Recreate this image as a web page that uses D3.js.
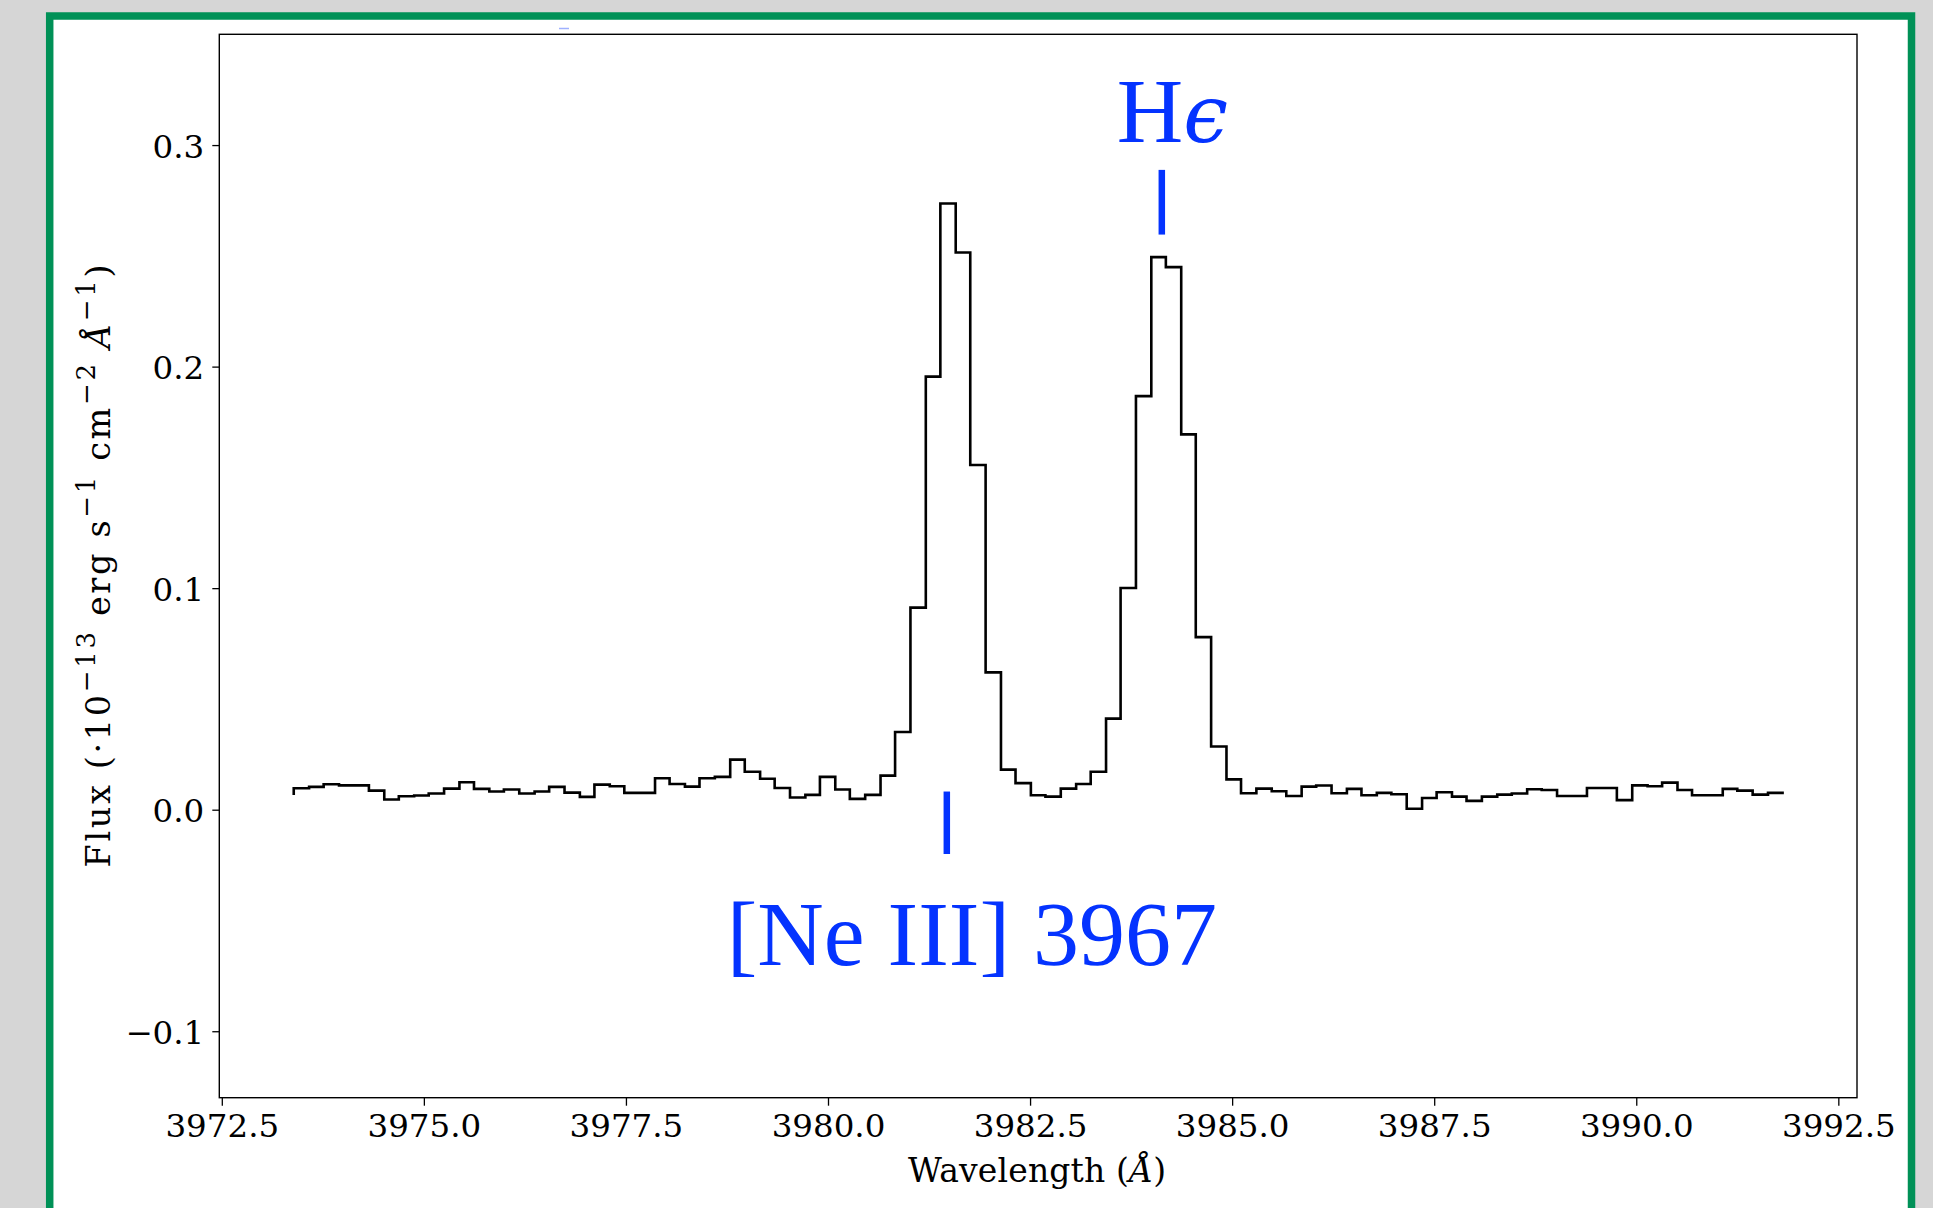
<!DOCTYPE html>
<html>
<head>
<meta charset="utf-8">
<script src="https://cdn.jsdelivr.net/npm/d3@7"></script>
<style>
  html, body { margin: 0; padding: 0; background: #d6d6d6; }
  svg { display: block; }
</style>
</head>
<body>
<svg id="chart" width="1933" height="1208"></svg>
<script>
// ---- data ----
const wavelength = [
  3973.39, 3973.58, 3973.76, 3973.95, 3974.13, 3974.32, 3974.51, 3974.69, 3974.88, 3975.06,
  3975.25, 3975.44, 3975.62, 3975.81, 3975.99, 3976.18, 3976.37, 3976.55, 3976.74, 3976.93,
  3977.11, 3977.30, 3977.48, 3977.67, 3977.86, 3978.04, 3978.23, 3978.41, 3978.60, 3978.79,
  3978.97, 3979.16, 3979.34, 3979.53, 3979.72, 3979.90, 3980.09, 3980.27, 3980.46, 3980.65,
  3980.83, 3981.02, 3981.21, 3981.39, 3981.58, 3981.76, 3981.95, 3982.14, 3982.32, 3982.51,
  3982.69, 3982.88, 3983.07, 3983.25, 3983.44, 3983.62, 3983.81, 3984.00, 3984.18, 3984.37,
  3984.55, 3984.74, 3984.93, 3985.11, 3985.30, 3985.49, 3985.67, 3985.86, 3986.04, 3986.23,
  3986.42, 3986.60, 3986.79, 3986.97, 3987.16, 3987.35, 3987.53, 3987.72, 3987.90, 3988.09,
  3988.28, 3988.46, 3988.65, 3988.83, 3989.02, 3989.21, 3989.39, 3989.58, 3989.76, 3989.95,
  3990.14, 3990.32, 3990.51, 3990.69, 3990.88, 3991.07, 3991.25, 3991.44, 3991.63, 3991.81
];
const flux = [
  0.0072, 0.0097, 0.0103, 0.0115, 0.0110, 0.0110, 0.0086, 0.0046, 0.0061, 0.0064,
  0.0073, 0.0095, 0.0124, 0.0094, 0.0082, 0.0091, 0.0073, 0.0082, 0.0103, 0.0077,
  0.0058, 0.0113, 0.0106, 0.0076, 0.0076, 0.0142, 0.0116, 0.0104, 0.0142, 0.0148,
  0.0226, 0.0171, 0.0140, 0.0098, 0.0055, 0.0067, 0.0148, 0.0091, 0.0049, 0.0067,
  0.0154, 0.0351, 0.0912, 0.1955, 0.2736, 0.2515, 0.1556, 0.0620, 0.0181, 0.0120,
  0.0065, 0.0059, 0.0095, 0.0116, 0.0171, 0.0411, 0.1001, 0.1867, 0.2494, 0.2449,
  0.1694, 0.0779, 0.0285, 0.0137, 0.0074, 0.0095, 0.0083, 0.0062, 0.0104, 0.0109,
  0.0074, 0.0094, 0.0065, 0.0076, 0.0070, 0.0004, 0.0053, 0.0079, 0.0059, 0.0040,
  0.0059, 0.0068, 0.0073, 0.0092, 0.0089, 0.0062, 0.0062, 0.0098, 0.0098, 0.0043,
  0.0110, 0.0106, 0.0122, 0.0089, 0.0065, 0.0065, 0.0094, 0.0086, 0.0068, 0.0076
];
const xTicks = [3972.5, 3975.0, 3977.5, 3980.0, 3982.5, 3985.0, 3987.5, 3990.0, 3992.5];
const yTicks = [-0.1, 0.0, 0.1, 0.2, 0.3];
const yDomain = [-0.13, 0.35];

// line markers: wavelength, marker bottom flux, marker top flux
const lineNames = ["[Ne III] 3967", "H\u03f5"];
const markerWave = [3981.47, 3984.13];
const markerLow = [-0.0200, 0.2596];
const markerHigh = [0.0082, 0.2888];
// label anchor (center wavelength, baseline flux)
const labelWave = [3981.78, 3984.26];
const labelFlux = [-0.0701, 0.3015];

// ---- layout ----
const W = 1933, H = 1208;
const plot = { left: 219.3, right: 1857, top: 34.3, bottom: 1097.7 };
const blue = "#0433ff";
const serif = "'DejaVu Serif', serif";
const times = "'Liberation Serif', 'Times New Roman', serif";

const svg = d3.select("#chart");

// page background & green frame
svg.append("rect").attr("x", 0).attr("y", 0).attr("width", W).attr("height", H).attr("fill", "#d6d6d6");
svg.append("rect")
  .attr("x", 49.7).attr("y", 16).attr("width", 1911.5 - 49.7).attr("height", 1260)
  .attr("fill", "#ffffff").attr("stroke", "#009157").attr("stroke-width", 7.5);

// small faint mark near the top edge (present in the reference)
svg.append("line").attr("x1", 559).attr("x2", 569).attr("y1", 28.5).attr("y2", 28.5)
  .attr("stroke", "#9fb0ff").attr("stroke-width", 1.5);

// scales (x autoscaled with 5% margin as matplotlib)
const [xmin, xmax] = d3.extent(wavelength);
const pad = (xmax - xmin) * 0.05;
const x = d3.scaleLinear().domain([xmin - pad, xmax + pad]).range([plot.left, plot.right]);
const y = d3.scaleLinear().domain(yDomain).range([plot.bottom, plot.top]);

const data = wavelength.map((w, i) => ({ w, f: flux[i] }));

const g = svg.append("g");

// spectrum (steps-pre)
const line = d3.line().x(d => x(d.w)).y(d => y(d.f)).curve(d3.curveStepBefore);
g.append("path").datum(data)
  .attr("d", line)
  .attr("fill", "none").attr("stroke", "#000").attr("stroke-width", 2.6)
  .attr("stroke-linejoin", "miter").attr("stroke-linecap", "square");

// markers
markerWave.forEach((mw, i) => {
  g.append("line")
    .attr("x1", x(mw)).attr("x2", x(mw))
    .attr("y1", y(markerLow[i])).attr("y2", y(markerHigh[i]))
    .attr("stroke", blue).attr("stroke-width", 6.5);
});

// labels
lineNames.forEach((name, i) => {
  const t = g.append("text")
    .attr("x", x(labelWave[i])).attr("y", y(labelFlux[i]))
    .attr("text-anchor", "middle")
    .attr("font-family", times).attr("font-size", 92)
    .attr("fill", blue);
  if (name === "H\u03f5") {
    t.append("tspan").text("H");
    t.append("tspan").attr("font-style", "italic").attr("font-family", "'DejaVu Serif', serif").attr("font-size", 80).text("\u03f5");
  } else {
    t.text(name);
  }
});

// axes frame
g.append("rect")
  .attr("x", plot.left).attr("y", plot.top)
  .attr("width", plot.right - plot.left).attr("height", plot.bottom - plot.top)
  .attr("fill", "none").attr("stroke", "#000").attr("stroke-width", 1.4);

// x axis
const xAxis = d3.axisBottom(x).tickValues(xTicks).tickSize(8).tickPadding(6)
  .tickFormat(d3.format(".1f"));
const gx = g.append("g").attr("transform", `translate(0,${plot.bottom})`).call(xAxis);
gx.select(".domain").remove();
gx.selectAll(".tick line").attr("stroke", "#000").attr("stroke-width", 1.3);
gx.selectAll(".tick text").attr("font-family", serif).attr("font-size", 32.5).attr("fill", "#000")
  .attr("dy", null).attr("y", 39.5);

// y axis
const fmtY = d => (d < 0 ? "\u2212" : "") + d3.format(".1f")(Math.abs(d));
const yAxis = d3.axisLeft(y).tickValues(yTicks).tickSize(7).tickPadding(8).tickFormat(fmtY);
const gy = g.append("g").attr("transform", `translate(${plot.left},0)`).call(yAxis);
gy.select(".domain").remove();
gy.selectAll(".tick line").attr("stroke", "#000").attr("stroke-width", 1.3);
gy.selectAll(".tick text").attr("font-family", serif).attr("font-size", 32.5).attr("fill", "#000")
  .attr("dy", null).attr("x", -15).attr("y", 12);

// x label
g.append("text")
  .attr("x", 1037).attr("y", 1182)
  .attr("text-anchor", "middle").attr("font-family", serif).attr("font-size", 33)
  .attr("textLength", 258).attr("lengthAdjust", "spacing")
  .call(t => {
    t.append("tspan").text("Wavelength (");
    t.append("tspan").attr("font-style", "italic").text("\u00c5");
    t.append("tspan").text(")");
  });

// y label
const yl = g.append("text")
  .attr("transform", `translate(110,566) rotate(-90)`)
  .attr("text-anchor", "middle").attr("font-family", serif).attr("font-size", 33.5)
  .attr("textLength", 603).attr("lengthAdjust", "spacing");
const sup = (txt) => yl.append("tspan").attr("dy", -15).attr("font-size", 26).text(txt);
const base = (txt) => yl.append("tspan").attr("dy", 15).text(txt);
yl.append("tspan").text("Flux (\u00b710");
sup("\u221213");
base(" erg s");
sup("\u22121");
base(" cm");
sup("\u22122");
base(" ");
yl.append("tspan").attr("font-style", "italic").text("\u00c5");
sup("\u22121");
base(")");
</script>
</body>
</html>
